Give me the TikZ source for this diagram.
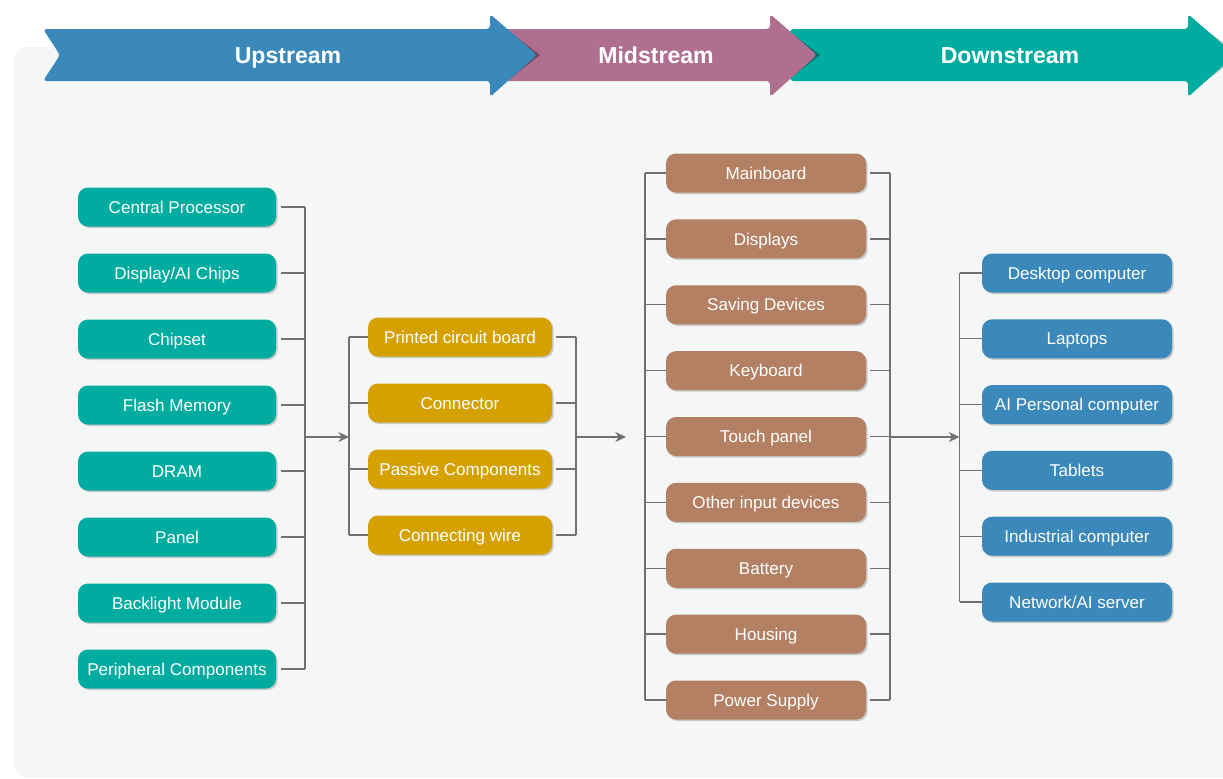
\documentclass[tikz,border=0pt]{standalone}
\usepackage{fontspec}
\setmainfont{Liberation Sans}
\usetikzlibrary{arrows.meta,shadows}
\definecolor{teal1}{HTML}{00AC9F}
\definecolor{blue1}{HTML}{3A89BA}
\definecolor{pink1}{HTML}{B06F91}
\definecolor{gold1}{HTML}{D4A100}
\definecolor{brown1}{HTML}{B38063}
\definecolor{panel}{HTML}{F5F7F7}
\definecolor{conn}{HTML}{707070}
\begin{document}
\begin{tikzpicture}[x=0.75pt,y=-0.75pt,
  box/.style={rounded corners=7.5pt, minimum height=29.25pt, inner sep=0pt, text=white,
    text height=9.2pt, text depth=0pt,
    font=\fontsize{12.8}{14}\selectfont,
    drop shadow={shadow xshift=1.2pt, shadow yshift=-1.2pt, opacity=0.18, fill=black}},
  tbox/.style={box, fill=teal1, minimum width=148.5pt},
  gbox/.style={box, fill=gold1, minimum width=138pt},
  bbox/.style={box, fill=brown1, minimum width=150pt},
  ubox/.style={box, fill=blue1, minimum width=142.5pt},
  link/.style={draw=conn, line width=1pt},
  arr/.style={link, -{Stealth[length=8pt,width=7.5pt,inset=2.5pt]}},
  band/.style={rounded corners=2.5pt},
  shade/.style={fill=black, opacity=0.35},
  head/.style={text=white, text height=12.5pt, text depth=0pt, inner sep=0pt,
    font=\fontsize{17.3}{20}\selectfont\bfseries}
]
\useasboundingbox (0,0) rectangle (1223,778);
\begin{scope}
\clip (0,0) rectangle (1223,778);
% background panel
\fill[panel, rounded corners=10pt] (14,47) rectangle (1260,777);

% header arrows
\fill[shade, opacity=0.2] (1205,29) -- (1240,55) -- (1206,81) -- cycle;
\fill[teal1, band] (790,29) -- (1188,29) -- (1188,14) -- (1235,55) -- (1188,97) -- (1188,81) -- (790,81) -- cycle;
\fill[shade] (786,29) -- (820,55) -- (787,81) -- cycle;
\fill[pink1, band] (500,29) -- (770,29) -- (770,14) -- (817,55) -- (770,97) -- (770,81) -- (500,81) -- cycle;
\fill[shade] (506,29) -- (540,55) -- (507,81) -- cycle;
\fill[blue1, band] (43,29) -- (490,29) -- (490,14) -- (537,55) -- (490,97) -- (490,81) -- (43,81) -- (60,55) -- cycle;
\node[head] (hup) at (288,55) {Upstream};
\node[head] (hmid) at (656,55) {Midstream};
\node[head] (hdown) at (1010,55) {Downstream};

% nodes
\foreach \t [count=\i] in {Central Processor, Display/AI Chips, Chipset, Flash Memory, DRAM, Panel, Backlight Module, Peripheral Components}
  \node[tbox] (t\i) at (177,{207+66*(\i-1)}) {\t};
\foreach \t/\yy [count=\i] in {Printed circuit board/337, Connector/403, Passive Components/469, Connecting wire/535}
  \node[gbox] (g\i) at (460,\yy) {\t};
\foreach \t [count=\i] in {Mainboard, Displays, Saving Devices, Keyboard, Touch panel, Other input devices, Battery, Housing, Power Supply}
  \node[bbox] (b\i) at (766,{173+65.875*(\i-1)}) {\t};
\foreach \t [count=\i] in {Desktop computer, Laptops, AI Personal computer, Tablets, Industrial computer, Network/AI server}
  \node[ubox] (u\i) at (1077,{273+65.8*(\i-1)}) {\t};

% connector coordinates
\coordinate (lb) at (305,437);
\coordinate (gl) at (349,437);
\coordinate (gr) at (576,437);
\coordinate (aend) at (626,437);
\coordinate (bl) at (645,437);
\coordinate (br) at (890,437);
\coordinate (ul) at (959.5,437);

% teal bracket
\foreach \i in {1,...,8}
  \draw[link] ([xshift=3.75pt]t\i.east) -- (t\i.east -| lb);
\draw[link] (t1.east -| lb) -- (t8.east -| lb);
\draw[arr] (lb) -- (gl);

% gold brackets
\foreach \i in {1,...,4} {
  \draw[link] (g\i.west -| gl) -- (g\i.west);
  \draw[link] ([xshift=3pt]g\i.east) -- (g\i.east -| gr);
}
\draw[link] (g1.west -| gl) -- (g4.west -| gl);
\draw[link] (g1.east -| gr) -- (g4.east -| gr);
\draw[arr] (gr) -- (aend);

% brown brackets
\foreach \i in {1,...,9} {
  \draw[link] (b\i.west -| bl) -- (b\i.west);
  \draw[link] ([xshift=2.6pt]b\i.east) -- (b\i.east -| br);
}
\draw[link] (b1.west -| bl) -- (b9.west -| bl);
\draw[link] (b1.east -| br) -- (b9.east -| br);
\draw[arr] (br) -- (ul);

% blue bracket
\foreach \i in {1,...,6}
  \draw[link] (u\i.west -| ul) -- (u\i.west);
\draw[link] (u1.west -| ul) -- (u6.west -| ul);
\end{scope}
\end{tikzpicture}
\end{document}
